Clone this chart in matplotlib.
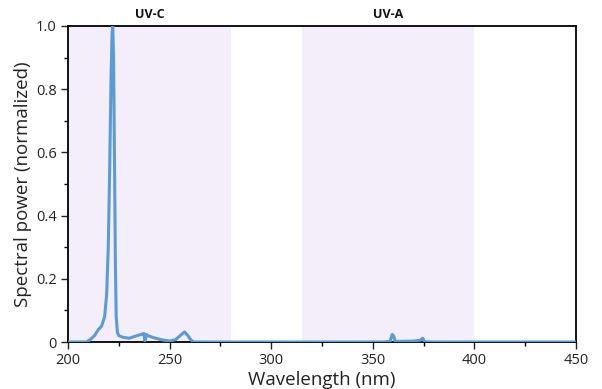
import matplotlib
matplotlib.use("Agg")
import matplotlib.pyplot as plt
from matplotlib.ticker import MultipleLocator

plt.rcParams['font.family'] = ['Open Sans', 'DejaVu Sans']

wavelength = [200, 205, 209, 211, 213, 215, 216.5, 218, 219, 219.8, 220.5, 221.2, 221.7, 222.0,
              222.4, 222.9, 223.3, 223.7, 224.3, 225, 227, 230, 233, 236.5, 237.3, 237.8, 238.5,
              239.3, 242, 246, 250, 253, 255.5, 257.3, 259, 260.5, 262, 270, 300, 340, 355, 358.5,
              359.5, 360.3, 361, 365, 370, 373.5, 374.5, 375.5, 380, 400, 450]
power = [0.0, 0.0, 0.0, 0.008, 0.02, 0.04, 0.05, 0.08, 0.15, 0.3, 0.55, 0.85, 0.98, 1.0,
         0.9, 0.55, 0.25, 0.08, 0.03, 0.02, 0.015, 0.012, 0.018, 0.025, 0.027, 0.003, 0.024,
         0.02, 0.014, 0.007, 0.003, 0.008, 0.022, 0.032, 0.02, 0.006, 0.0, 0.0, 0.0, 0.0, 0.0, 0.002,
         0.024, 0.018, 0.002, 0.002, 0.003, 0.006, 0.012, 0.001, 0.0, 0.0, 0.0]

bands = ["UV-C", "UV-A"]
band_start = [200, 315]
band_end = [280, 400]

fig = plt.figure(figsize=(6.02, 3.89), dpi=100)
ax = fig.add_axes([0.113, 0.1208, 0.844, 0.8124])

for name, s, e in zip(bands, band_start, band_end):
    ax.axvspan(s, e, color='#F3EEF9', zorder=0, lw=0)
    ax.text((s + e) / 2, 1.015, name, ha='center', va='bottom', fontsize=9,
            fontweight='bold', color='#111111', transform=ax.get_xaxis_transform())

ax.plot(wavelength, power, color='#5B9BD5', lw=2.2, zorder=3, solid_joinstyle='round')

ax.set_xlim(200, 450)
ax.set_ylim(0, 1.0)
ax.xaxis.set_major_locator(MultipleLocator(50))
ax.xaxis.set_minor_locator(MultipleLocator(25))
ax.yaxis.set_minor_locator(MultipleLocator(0.1))
ax.set_yticks([0, 0.2, 0.4, 0.6, 0.8, 1.0])
ax.set_yticklabels(['0', '0.2', '0.4', '0.6', '0.8', '1.0'])

ax.tick_params(which='major', direction='out', length=5, width=1.0, labelsize=10.5,
               colors='#222222', pad=3)
ax.tick_params(which='minor', direction='out', length=3, width=1.0)
for sp in ax.spines.values():
    sp.set_linewidth(1.3)
    sp.set_color('black')

ax.set_xlabel('Wavelength (nm)', fontsize=13.5, labelpad=2, color='#222222')
ax.set_ylabel('Spectral power (normalized)', fontsize=13.5, labelpad=3, color='#222222')

fig.savefig('out.png', dpi=100)
